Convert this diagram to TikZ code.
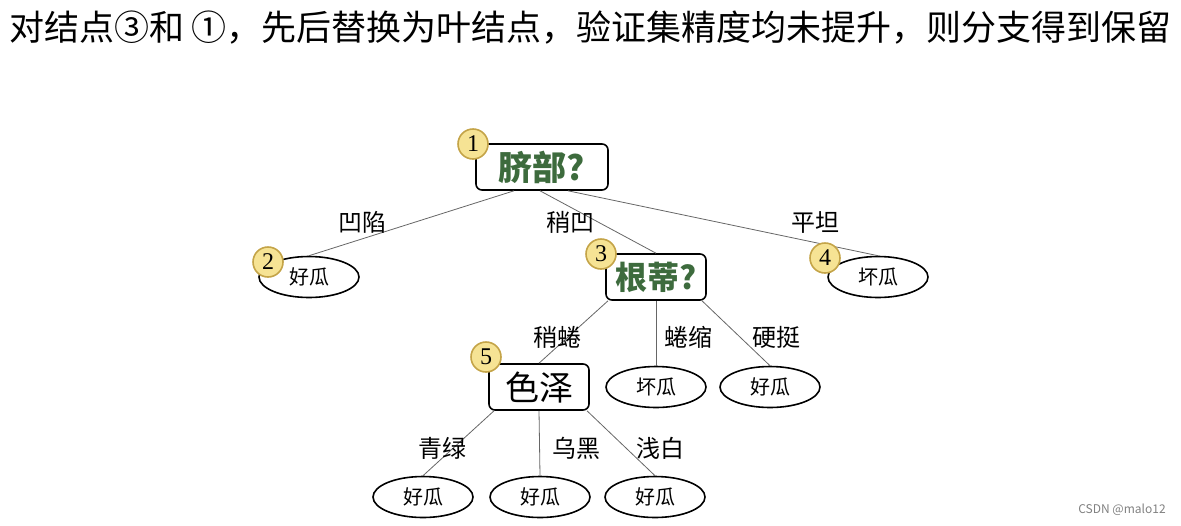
\documentclass[tikz,border=0pt]{standalone}
\usepackage{fontspec}
\setmainfont{Noto Sans CJK SC}
\newfontfamily\numfont{Liberation Serif}
\usetikzlibrary{shapes.geometric,calc}
\definecolor{qgreen}{HTML}{3D6B3D}
\definecolor{badgefill}{HTML}{F6E394}
\definecolor{badgeedge}{HTML}{C4A448}
\tikzset{
  x=0.5pt,y=-0.5pt,
  qbox/.style={draw,thick,rounded corners=3pt,inner sep=2pt,minimum height=23pt},
  leaf/.style={draw,thick,ellipse,minimum width=50pt,minimum height=20.5pt,inner sep=0pt,font=\fontsize{10}{12}\selectfont},
  badge/.style={circle,draw=badgeedge,fill=badgefill,thick,minimum size=15pt,inner sep=0pt,font=\numfont\fontsize{12}{12}\selectfont},
  lbl/.style={font=\fontsize{12}{14}\selectfont},
  edge/.style={draw=gray!80!black,line width=0.4pt}
}
\begin{document}
\begin{tikzpicture}
\useasboundingbox (0,0) rectangle (1181,525);
\node[anchor=west,font=\fontsize{17.5}{19}\selectfont] (title) at (2,28) {对结点③和 ①，先后替换为叶结点，验证集精度均未提升，则分支得到保留};
\node[qbox,minimum width=66pt,font=\bfseries\fontsize{17}{19}\selectfont,text=qgreen] (root) at (542,167) {脐部?};
\node[qbox,minimum width=50pt,font=\bfseries\fontsize{16}{18}\selectfont,text=qgreen] (n3) at (656,277) {根蒂?};
\node[qbox,minimum width=50pt,font=\fontsize{17}{18}\selectfont] (n5) at (539,387) {色泽};
\node[leaf] (n2) at (309,277) {好瓜};
\node[leaf] (n4) at (878,277) {坏瓜};
\node[leaf] (l6) at (656,387) {坏瓜};
\node[leaf] (l7) at (770,387) {好瓜};
\node[leaf] (l8) at (423,497) {好瓜};
\node[leaf] (l9) at (540,497) {好瓜};
\node[leaf] (l10) at (655,497) {好瓜};
\draw[edge] ($(root.south)+(-28,0)$) -- (n2.north);
\draw[edge] ($(root.south)+(-2,0)$) -- (n3.north);
\draw[edge] ($(root.south)+(26,0)$) -- (n4.north);
\draw[edge] ($(n3.south)+(-48,0)$) -- (n5.north);
\draw[edge] (n3.south) -- (l6.north);
\draw[edge] ($(n3.south)+(46,0)$) -- (l7.north);
\draw[edge] ($(n5.south)+(-45,0)$) -- (l8.north);
\draw[edge] ($(n5.south)+(0,0)$) -- (l9.north);
\draw[edge] ($(n5.south)+(48,0)$) -- (l10.north);
\node[lbl] (e1) at (362,222) {凹陷};
\node[lbl] (e2) at (570,222) {稍凹};
\node[lbl] (e3) at (815,222) {平坦};
\node[lbl] (e4) at (557,337) {稍蜷};
\node[lbl] (e5) at (688,337) {蜷缩};
\node[lbl] (e6) at (776,337) {硬挺};
\node[lbl] (e7) at (442,448) {青绿};
\node[lbl] (e8) at (576,448) {乌黑};
\node[lbl] (e9) at (660,448) {浅白};
\node[badge] (b1) at (473,144) {1};
\node[badge] (b2) at (268,262) {2};
\node[badge] (b3) at (601,254) {3};
\node[badge] (b4) at (825,258) {4};
\node[badge] (b5) at (486,357) {5};
\node[font=\fontsize{6}{7}\selectfont,text=gray] (wm) at (1122,510) {CSDN @malo12};
\end{tikzpicture}
\end{document}
